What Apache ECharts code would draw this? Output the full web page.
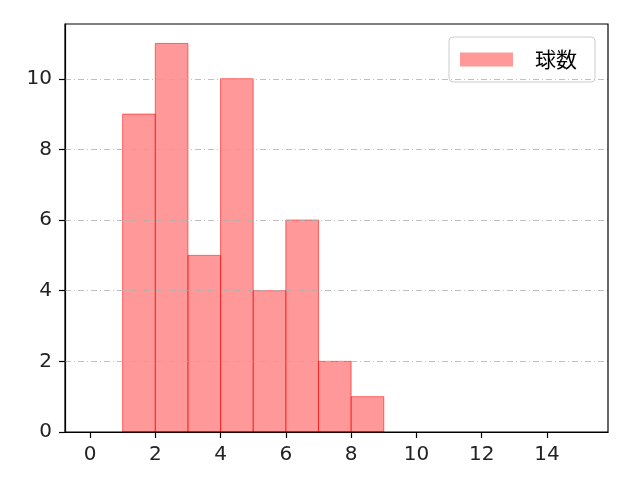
<!DOCTYPE html>
<html><head><meta charset="utf-8">
<script src="https://cdn.jsdelivr.net/npm/echarts@6/dist/echarts.min.js"></script>
<style>html,body{margin:0;padding:0;background:#fff}#c{width:640px;height:480px}</style>
</head><body><div id="c"></div>
<script>
const binStarts = [1, 2, 3, 4, 5, 6, 7, 8];
const binWidth = 1;
const counts = [9, 11, 5, 10, 4, 6, 2, 1];
const seriesName = '球数';
const xTicks = [0, 2, 4, 6, 8, 10, 12, 14];
const yTicks = [0, 2, 4, 6, 8, 10];

const data = binStarts.map((s, i) => [s, s + binWidth, counts[i]]);
const chart = echarts.init(document.getElementById('c'));
const font = '"DejaVu Sans", "Noto Sans CJK JP", sans-serif';
const cjk = '"Noto Sans CJK JP", sans-serif';
chart.setOption({
  animation: false,
  grid: {left: 65, right: 32, top: 24, bottom: 48},
  xAxis: {
    type: 'value', min: -0.766, max: 15.87,
    axisLine: {show: true, onZero: false, lineStyle: {color: '#000', width: 1.2}},
    axisTick: {show: true, inside: false, length: 6, lineStyle: {color: '#000', width: 1.2},
      customValues: xTicks},
    axisLabel: {color: '#222', fontSize: 20, fontFamily: font, margin: 13,
      customValues: xTicks},
    splitLine: {show: false}
  },
  yAxis: {
    type: 'value', min: 0, max: 11.55,
    axisLine: {show: true, onZero: false, lineStyle: {color: '#000', width: 1.2}},
    axisTick: {show: true, inside: false, length: 6, lineStyle: {color: '#000', width: 1.2},
      customValues: yTicks},
    axisLabel: {color: '#222', fontSize: 20, fontFamily: font, margin: 13,
      customValues: yTicks},
    splitLine: {show: false}
  },
  legend: {
    show: true, right: 45, top: 37,
    itemWidth: 53, itemHeight: 14, itemGap: 10,
    padding: [12, 18, 12, 11],
    borderColor: '#ccc', borderWidth: 1, borderRadius: 4,
    backgroundColor: 'rgba(255,255,255,0.8)',
    textStyle: {fontSize: 21, fontFamily: cjk, color: '#000', padding: [0, 0, 0, 17]},
    data: [{name: seriesName, icon: 'rect'}]
  },
  series: [
    {
      type: 'line', name: 'grid', silent: true, data: [],
      markLine: {
        symbol: 'none', silent: true, label: {show: false},
        lineStyle: {color: '#b0b0b0', type: [6, 3, 1, 3], width: 0.8},
        data: yTicks.filter(v => v > 0).map(v => ({yAxis: v}))
      }
    },
    {
      type: 'custom', name: seriesName,
      itemStyle: {color: 'rgba(255,0,0,0.4)', borderColor: 'rgba(255,0,0,0.5)'},
      renderItem: function (params, api) {
        const p0 = api.coord([api.value(0), api.value(2)]);
        const p1 = api.coord([api.value(1), 0]);
        return {
          type: 'rect',
          shape: {x: p0[0], y: p0[1], width: p1[0] - p0[0], height: p1[1] - p0[1]},
          style: {fill: 'rgba(255,0,0,0.4)', stroke: 'rgba(255,0,0,0.55)', lineWidth: 1}
        };
      },
      encode: {x: [0, 1], y: 2},
      data: data
    }
  ]
});
const g = chart.getModel().getComponent('grid').coordinateSystem.getRect();
chart.setOption({
  graphic: [{type: 'rect', shape: {x: g.x, y: g.y, width: g.width, height: g.height},
    style: {fill: 'none', stroke: '#000', lineWidth: 1.2}, silent: true, z: 10}]
});
</script></body></html>
